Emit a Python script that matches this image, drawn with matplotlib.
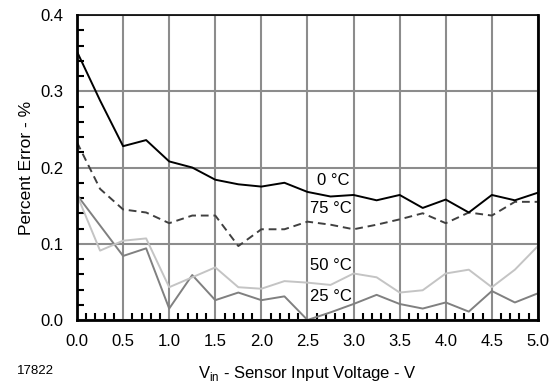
import numpy as np
import matplotlib
matplotlib.use('Agg')
import matplotlib.pyplot as plt
from matplotlib.ticker import MultipleLocator

plt.rcParams['font.family'] = ['Liberation Sans', 'DejaVu Sans']
plt.rcParams['mathtext.fontset'] = 'custom'
plt.rcParams['mathtext.rm'] = 'Liberation Sans'

# Sensor input voltage (V)
vin = [0.0, 0.25, 0.5, 0.75, 1.0, 1.25, 1.5, 1.75, 2.0, 2.25, 2.5,
       2.75, 3.0, 3.25, 3.5, 3.75, 4.0, 4.25, 4.5, 4.75, 5.0]

# Percent error per temperature
err_0c = [0.352, 0.288, 0.228, 0.236, 0.208, 0.200, 0.184, 0.178, 0.175, 0.180, 0.168,
          0.162, 0.164, 0.157, 0.164, 0.147, 0.158, 0.141, 0.164, 0.157, 0.167]
err_75c = [0.233, 0.172, 0.145, 0.141, 0.127, 0.137, 0.137, 0.097, 0.119, 0.119, 0.129,
           0.125, 0.119, 0.125, 0.132, 0.140, 0.127, 0.141, 0.137, 0.155, 0.155]
err_50c = [0.164, 0.091, 0.104, 0.107, 0.043, 0.056, 0.069, 0.043, 0.041, 0.051, 0.049,
           0.046, 0.061, 0.056, 0.036, 0.039, 0.061, 0.066, 0.043, 0.066, 0.097]
err_25c = [0.164, 0.124, 0.084, 0.094, 0.015, 0.059, 0.026, 0.036, 0.026, 0.031, 0.000,
           0.010, 0.021, 0.033, 0.021, 0.015, 0.023, 0.011, 0.038, 0.023, 0.035]

fig = plt.figure(figsize=(5.54, 3.86), dpi=100)
ax = fig.add_axes([0.139, 0.171, 0.832, 0.790])

ax.set_xlim(0, 5)
ax.set_ylim(0, 0.4)
ax.xaxis.set_major_locator(MultipleLocator(0.5))
ax.xaxis.set_minor_locator(MultipleLocator(0.1))
ax.yaxis.set_major_locator(MultipleLocator(0.1))
ax.yaxis.set_minor_locator(MultipleLocator(0.02))

ax.grid(True, which='major', color='#8c8c8c', linewidth=1.5)
ax.set_axisbelow(True)

ax.plot(vin, err_25c, color='#808080', linewidth=1.4)
ax.plot(vin, err_50c, color='#c4c4c4', linewidth=1.4)
ax.plot(vin, err_75c, color='#404040', linewidth=1.4, linestyle=(0, (4, 2.5)))
ax.plot(vin, err_0c, color='black', linewidth=1.4)

ax.text(2.6, 0.183, '0 °C', fontsize=12, va='center')
ax.text(2.53, 0.146, '75 °C', fontsize=12, va='center')
ax.text(2.53, 0.071, '50 °C', fontsize=12, va='center')
ax.text(2.53, 0.031, '25 °C', fontsize=12, va='center')

ax.set_xticks(np.arange(0, 5.01, 0.5))
ax.set_xticklabels([f'{v:.1f}' for v in np.arange(0, 5.01, 0.5)])
ax.set_yticks(np.arange(0, 0.41, 0.1))
ax.set_yticklabels([f'{v:.1f}' for v in np.arange(0, 0.41, 0.1)])

ax.tick_params(which='major', length=0, labelsize=12, pad=10)
ax.tick_params(axis='x', which='minor', direction='in', length=5, width=1.5, color='black')
ax.tick_params(axis='y', which='minor', direction='in', length=5, width=1.5, color='black')

for side in ['left', 'bottom', 'right']:
    ax.spines[side].set_linewidth(2)
ax.spines['top'].set_linewidth(1.2)

ax.set_ylabel('Percent Error - %', fontsize=12.5, labelpad=4)
ax.set_xlabel(r'V$_{\mathrm{in}}$ - Sensor Input Voltage - V', fontsize=12, labelpad=11)
fig.text(0.031, 0.03, '17822', fontsize=9.5)

fig.savefig('out.png', dpi=100)
